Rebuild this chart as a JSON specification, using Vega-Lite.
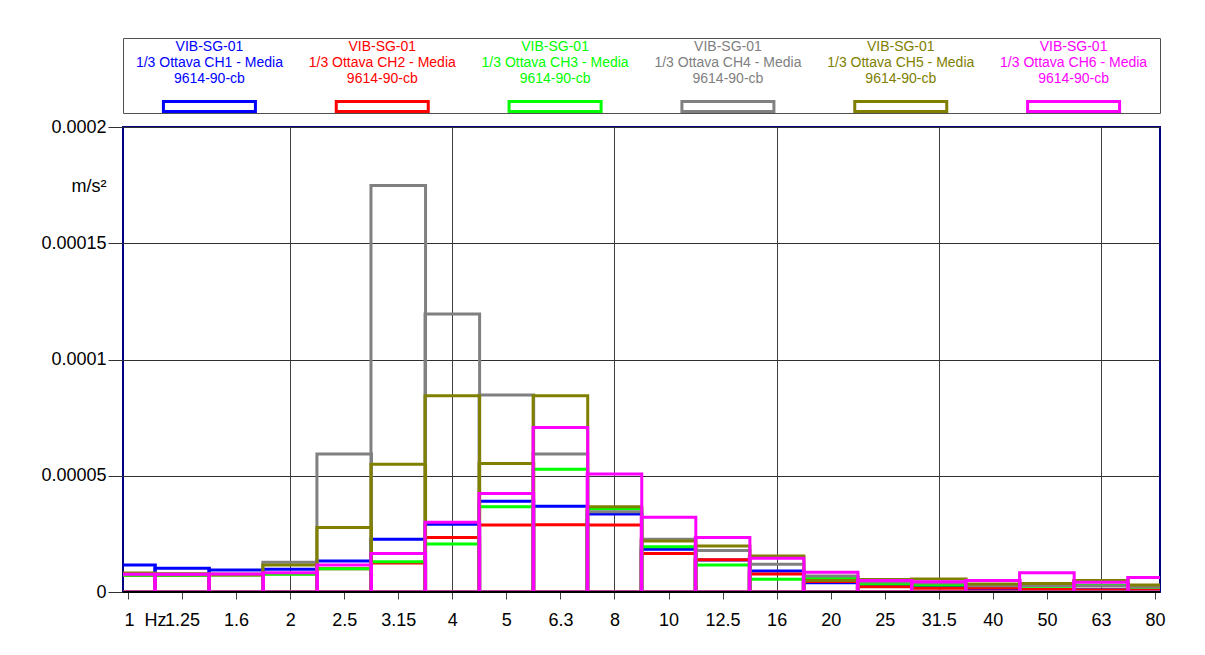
{
  "$schema": "https://vega.github.io/schema/vega-lite/v6.json",
  "padding": {"left": 39, "top": 37, "right": 5, "bottom": 5},
  "background": "white",
  "spacing": 14,
  "bounds": "flush",
  "config": {
    "font": "Liberation Sans",
    "axis": {"labelFont": "Liberation Sans", "titleFont": "Liberation Sans", "labelColor": "black", "titleColor": "black"},
    "text": {"font": "Liberation Sans"}
  },
  "datasets": {
    "legend": [
      {"s": "CH1", "label": "VIB-SG-01\n1/3 Ottava CH1 - Media\n9614-90-cb"},
      {"s": "CH2", "label": "VIB-SG-01\n1/3 Ottava CH2 - Media\n9614-90-cb"},
      {"s": "CH3", "label": "VIB-SG-01\n1/3 Ottava CH3 - Media\n9614-90-cb"},
      {"s": "CH4", "label": "VIB-SG-01\n1/3 Ottava CH4 - Media\n9614-90-cb"},
      {"s": "CH5", "label": "VIB-SG-01\n1/3 Ottava CH5 - Media\n9614-90-cb"},
      {"s": "CH6", "label": "VIB-SG-01\n1/3 Ottava CH6 - Media\n9614-90-cb"}
    ],
    "bands": [
      {"s":"CH1","b":0,"v":11.6e-6},{"s":"CH1","b":1,"v":10.2e-6},{"s":"CH1","b":2,"v":9.5e-6},{"s":"CH1","b":3,"v":9.8e-6},{"s":"CH1","b":4,"v":13.3e-6},{"s":"CH1","b":5,"v":22.7e-6},{"s":"CH1","b":6,"v":29.1e-6},{"s":"CH1","b":7,"v":39.0e-6},{"s":"CH1","b":8,"v":36.9e-6},{"s":"CH1","b":9,"v":33.5e-6},{"s":"CH1","b":10,"v":18.4e-6},{"s":"CH1","b":11,"v":13.8e-6},{"s":"CH1","b":12,"v":9.0e-6},{"s":"CH1","b":13,"v":4.0e-6},{"s":"CH1","b":14,"v":2.5e-6},{"s":"CH1","b":15,"v":2.0e-6},{"s":"CH1","b":16,"v":1.5e-6},{"s":"CH1","b":17,"v":1.2e-6},{"s":"CH1","b":18,"v":1.0e-6},{"s":"CH1","b":19,"v":0.8e-6},
      {"s":"CH2","b":0,"v":7.2e-6},{"s":"CH2","b":1,"v":7.2e-6},{"s":"CH2","b":2,"v":7.3e-6},{"s":"CH2","b":3,"v":7.8e-6},{"s":"CH2","b":4,"v":10.0e-6},{"s":"CH2","b":5,"v":12.5e-6},{"s":"CH2","b":6,"v":23.4e-6},{"s":"CH2","b":7,"v":28.8e-6},{"s":"CH2","b":8,"v":28.9e-6},{"s":"CH2","b":9,"v":28.8e-6},{"s":"CH2","b":10,"v":16.6e-6},{"s":"CH2","b":11,"v":13.9e-6},{"s":"CH2","b":12,"v":7.7e-6},{"s":"CH2","b":13,"v":4.5e-6},{"s":"CH2","b":14,"v":2.3e-6},{"s":"CH2","b":15,"v":1.6e-6},{"s":"CH2","b":16,"v":1.7e-6},{"s":"CH2","b":17,"v":1.1e-6},{"s":"CH2","b":18,"v":0.9e-6},{"s":"CH2","b":19,"v":0.9e-6},
      {"s":"CH3","b":0,"v":7.2e-6},{"s":"CH3","b":1,"v":7.2e-6},{"s":"CH3","b":2,"v":7.3e-6},{"s":"CH3","b":3,"v":7.6e-6},{"s":"CH3","b":4,"v":10.0e-6},{"s":"CH3","b":5,"v":13.0e-6},{"s":"CH3","b":6,"v":20.6e-6},{"s":"CH3","b":7,"v":36.7e-6},{"s":"CH3","b":8,"v":52.8e-6},{"s":"CH3","b":9,"v":35.8e-6},{"s":"CH3","b":10,"v":19.5e-6},{"s":"CH3","b":11,"v":11.6e-6},{"s":"CH3","b":12,"v":5.5e-6},{"s":"CH3","b":13,"v":6.2e-6},{"s":"CH3","b":14,"v":3.5e-6},{"s":"CH3","b":15,"v":3.0e-6},{"s":"CH3","b":16,"v":3.0e-6},{"s":"CH3","b":17,"v":2.5e-6},{"s":"CH3","b":18,"v":2.9e-6},{"s":"CH3","b":19,"v":2.0e-6},
      {"s":"CH4","b":0,"v":7.8e-6},{"s":"CH4","b":1,"v":7.6e-6},{"s":"CH4","b":2,"v":7.6e-6},{"s":"CH4","b":3,"v":12.8e-6},{"s":"CH4","b":4,"v":59.4e-6},{"s":"CH4","b":5,"v":174.8e-6},{"s":"CH4","b":6,"v":119.6e-6},{"s":"CH4","b":7,"v":84.7e-6},{"s":"CH4","b":8,"v":59.4e-6},{"s":"CH4","b":9,"v":34.5e-6},{"s":"CH4","b":10,"v":22.7e-6},{"s":"CH4","b":11,"v":17.8e-6},{"s":"CH4","b":12,"v":11.9e-6},{"s":"CH4","b":13,"v":6.9e-6},{"s":"CH4","b":14,"v":4.3e-6},{"s":"CH4","b":15,"v":3.9e-6},{"s":"CH4","b":16,"v":2.7e-6},{"s":"CH4","b":17,"v":2.8e-6},{"s":"CH4","b":18,"v":2.6e-6},{"s":"CH4","b":19,"v":2.1e-6},
      {"s":"CH5","b":0,"v":8.2e-6},{"s":"CH5","b":1,"v":7.8e-6},{"s":"CH5","b":2,"v":7.6e-6},{"s":"CH5","b":3,"v":11.6e-6},{"s":"CH5","b":4,"v":27.7e-6},{"s":"CH5","b":5,"v":54.9e-6},{"s":"CH5","b":6,"v":84.4e-6},{"s":"CH5","b":7,"v":55.3e-6},{"s":"CH5","b":8,"v":84.4e-6},{"s":"CH5","b":9,"v":36.7e-6},{"s":"CH5","b":10,"v":21.9e-6},{"s":"CH5","b":11,"v":19.8e-6},{"s":"CH5","b":12,"v":15.5e-6},{"s":"CH5","b":13,"v":5.0e-6},{"s":"CH5","b":14,"v":5.4e-6},{"s":"CH5","b":15,"v":5.6e-6},{"s":"CH5","b":16,"v":3.4e-6},{"s":"CH5","b":17,"v":3.7e-6},{"s":"CH5","b":18,"v":4.9e-6},{"s":"CH5","b":19,"v":3.0e-6},
      {"s":"CH6","b":0,"v":7.6e-6},{"s":"CH6","b":1,"v":7.6e-6},{"s":"CH6","b":2,"v":7.7e-6},{"s":"CH6","b":3,"v":8.3e-6},{"s":"CH6","b":4,"v":11.6e-6},{"s":"CH6","b":5,"v":16.6e-6},{"s":"CH6","b":6,"v":30.0e-6},{"s":"CH6","b":7,"v":42.4e-6},{"s":"CH6","b":8,"v":70.8e-6},{"s":"CH6","b":9,"v":50.8e-6},{"s":"CH6","b":10,"v":32.1e-6},{"s":"CH6","b":11,"v":23.4e-6},{"s":"CH6","b":12,"v":14.5e-6},{"s":"CH6","b":13,"v":8.5e-6},{"s":"CH6","b":14,"v":4.9e-6},{"s":"CH6","b":15,"v":4.4e-6},{"s":"CH6","b":16,"v":4.9e-6},{"s":"CH6","b":17,"v":8.3e-6},{"s":"CH6","b":18,"v":4.2e-6},{"s":"CH6","b":19,"v":6.2e-6}
    ]
  },
  "vconcat": [
    {
      "width": 1037,
      "height": 75,
      "view": {"stroke": "#505050", "strokeWidth": 1, "fill": "white"},
      "data": {"name": "legend"},
      "encoding": {
        "x": {"field": "s", "type": "nominal", "sort": null, "scale": {"paddingInner": 0, "paddingOuter": 0}, "axis": null},
        "color": {"field": "s", "type": "nominal", "legend": null,
          "scale": {"domain": ["CH1", "CH2", "CH3", "CH4", "CH5", "CH6"], "range": ["#0000ff", "#ff0000", "#00ff00", "#808080", "#808000", "#ff00ff"]}}
      },
      "layer": [
        {
          "mark": {"type": "text", "lineBreak": "\n", "lineHeight": 16, "fontSize": 14, "baseline": "middle", "align": "center", "dy": -28.5},
          "encoding": {"text": {"field": "label"}}
        },
        {
          "mark": {"type": "point", "filled": false, "shape": "M-1,-0.1087L1,-0.1087L1,0.1087L-1,0.1087Z", "size": 8464, "strokeWidth": 3, "opacity": 1, "yOffset": 31, "strokeJoin": "miter"},
          "encoding": {}
        }
      ]
    },
    {
      "width": 1037,
      "height": 465,
      "view": {"stroke": "#000080", "strokeWidth": 2, "fill": "white"},
      "data": {"name": "bands"},
      "layer": [
        {
          "mark": {"type": "bar", "filled": false, "fill": "transparent", "strokeWidth": 3, "width": 54.58, "clip": true, "strokeJoin": "miter"},
          "encoding": {
            "x": {"field": "b", "type": "quantitative",
              "scale": {"domain": [0, 19], "nice": false, "zero": false},
              "axis": {
                "values": [0,1,2,3,4,5,6,7,8,9,10,11,12,13,14,15,16,17,18,19],
                "labelExpr": "['1\u00a0\u00a0Hz','1.25','1.6','2','2.5','3.15','4','5','6.3','8','10','12.5','16','20','25','31.5','40','50','63','80'][datum.value]",
                "title": null,
                "domain": false,
                "grid": true,
                "gridColor": "#404040",
                "gridWidth": 1,
                "gridOpacity": {"condition": {"test": "datum.value % 3 == 0 && datum.value > 0", "value": 1}, "value": 0},
                "tickSize": 7,
                "tickColor": "#404040",
                "labelFontSize": 18,
                "labelPadding": 12,
                "labelOverlap": false,
                "labelFlush": false,
                "labelBound": false,
                "labelAlign": {"condition": {"test": "datum.value == 0", "value": "left"}, "value": "center"},
                "labelOffset": {"condition": {"test": "datum.value == 0", "value": -4}, "value": 0}
              }
            },
            "y": {"field": "v", "type": "quantitative", "stack": null,
              "scale": {"domain": [0, 0.0002], "nice": false},
              "axis": {
                "values": [0, 0.00005, 0.0001, 0.00015, 0.0002],
                "format": "~f",
                "domain": false,
                "grid": true,
                "gridColor": "#303030",
                "gridWidth": 1,
                "tickSize": 15,
                "tickColor": "#303030",
                "labelPadding": 2,
                "labelFontSize": 18,
                "labelOverlap": false,
                "title": "m/s²",
                "titleAngle": 0,
                "titleAlign": "right",
                "titleBaseline": "middle",
                "titleX": -17,
                "titleY": 59,
                "titleFontSize": 18,
                "titleFontWeight": "normal"
              }
            },
            "color": {"field": "s", "type": "nominal", "legend": null}
          }
        },
        {
          "mark": {"type": "rule", "color": "black", "strokeWidth": 2},
          "encoding": {"y": {"datum": 0}}
        }
      ]
    }
  ]
}
